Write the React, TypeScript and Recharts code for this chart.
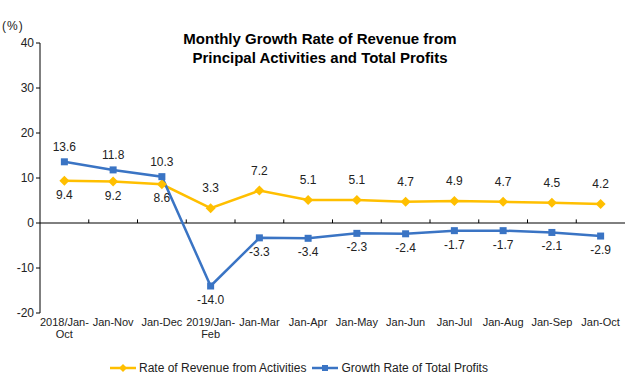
import { LineChart, Line, XAxis, YAxis, ReferenceLine, LabelList } from 'recharts';

const categories = [
  '2018/Jan-\nOct', 'Jan-Nov', 'Jan-Dec', '2019/Jan-\nFeb', 'Jan-Mar', 'Jan-Apr',
  'Jan-May', 'Jan-Jun', 'Jan-Jul', 'Jan-Aug', 'Jan-Sep', 'Jan-Oct',
];
const revenueRate = [9.4, 9.2, 8.6, 3.3, 7.2, 5.1, 5.1, 4.7, 4.9, 4.7, 4.5, 4.2];
const profitRate = [13.6, 11.8, 10.3, -14.0, -3.3, -3.4, -2.3, -2.4, -1.7, -1.7, -2.1, -2.9];
const yTicks = [-20, -10, 0, 10, 20, 30, 40];

const REVENUE_NAME = 'Rate of Revenue from Activities';
const PROFIT_NAME = 'Growth Rate of Total Profits';
const YELLOW = '#FFBF00';
const BLUE = '#3A74C4';
const FONT = "'Liberation Sans', Arial, sans-serif";

const data = categories.map((c, i) => ({
  x: i + 0.5,
  name: c,
  revenue: revenueRate[i],
  profit: profitRate[i],
}));

const xTicks = categories.map((_, i) => i + 0.5);
const boundaries = categories.slice(1).map((_, i) => i + 1);

function CategoryTick(props: any) {
  const { x, y, payload } = props;
  const idx = Math.round(payload.value - 0.5);
  const lines = (categories[idx] ?? '').split('\n');
  return (
    <text x={x} y={y} textAnchor="middle" fontSize={11} fill="#222" fontFamily={FONT}>
      {lines.map((l, i) => (
        <tspan key={i} x={x} dy={i === 0 ? 5 : 12}>{l}</tspan>
      ))}
    </text>
  );
}

function Diamond(props: any) {
  const { cx, cy } = props;
  if (cx == null || cy == null) return null;
  return <path d={`M${cx},${cy - 5}L${cx + 5},${cy}L${cx},${cy + 5}L${cx - 5},${cy}Z`} fill={YELLOW} />;
}

function Square(props: any) {
  const { cx, cy } = props;
  if (cx == null || cy == null) return null;
  return <rect x={cx - 3.5} y={cy - 3.5} width={7} height={7} fill={BLUE} />;
}

// label goes on the side away from the other series
function makeLabel(own: number[], other: number[], upGap: number) {
  return (props: any) => {
    const { x, y, index } = props;
    const above = own[index] > other[index];
    return (
      <text
        x={x}
        y={above ? y - upGap : y + 14}
        textAnchor="middle"
        dominantBaseline="central"
        fontSize={12}
        fill="#222"
        fontFamily={FONT}
      >
        {own[index].toFixed(1)}
      </text>
    );
  };
}

function LegendItem({ color, label, square }: { color: string; label: string; square?: boolean }) {
  return (
    <span style={{ display: 'inline-flex', alignItems: 'center', marginRight: 6 }}>
      <svg width={28} height={10} style={{ marginRight: 1 }}>
        <line x1={0} y1={5} x2={26} y2={5} stroke={color} strokeWidth={2.5} />
        {square
          ? <rect x={10} y={2} width={6} height={6} fill={color} />
          : <path d="M13,1L17,5L13,9L9,5Z" fill={color} />}
      </svg>
      {label}
    </span>
  );
}

export default function App() {
  return (
    <div style={{ position: 'absolute', left: 0, top: 0, width: 633, height: 382, background: '#fff', fontFamily: FONT }}>
      <div style={{ position: 'absolute', left: 2, top: 19, fontSize: 12, color: '#222', letterSpacing: 1 }}>(%)</div>
      <div
        style={{
          position: 'absolute', left: 0, top: 29, width: 640, textAlign: 'center',
          fontSize: 15, fontWeight: 'bold', lineHeight: '19px', color: '#000',
        }}
      >
        Monthly Growth Rate of Revenue from<br />Principal Activities and Total Profits
      </div>
      <LineChart width={633} height={382} data={data} margin={{ top: 43, right: 8, bottom: 39, left: 10 }}>
        <XAxis
          type="number"
          dataKey="x"
          domain={[0, 12]}
          ticks={xTicks}
          interval={0}
          axisLine={false}
          tickLine={false}
          tick={<CategoryTick />}
          height={30}
        />
        <YAxis
          domain={[-20, 40]}
          ticks={yTicks}
          interval={0}
          width={30}
          tickSize={4}
          axisLine={{ stroke: '#000' }}
          tickLine={{ stroke: '#000' }}
          tick={{ fontSize: 12, fill: '#222', fontFamily: FONT }}
        />
        <ReferenceLine y={0} stroke="#000" />
        {boundaries.map(b => (
          <ReferenceLine key={b} segment={[{ x: b, y: 0 }, { x: b, y: 0.8 }]} stroke="#000" />
        ))}
        <Line
          dataKey="revenue"
          name={REVENUE_NAME}
          stroke={YELLOW}
          strokeWidth={2.5}
          dot={<Diamond />}
          activeDot={false}
          isAnimationActive={false}
        >
          <LabelList dataKey="revenue" content={makeLabel(revenueRate, profitRate, 20)} />
        </Line>
        <Line
          dataKey="profit"
          name={PROFIT_NAME}
          stroke={BLUE}
          strokeWidth={2.5}
          dot={<Square />}
          activeDot={false}
          isAnimationActive={false}
        >
          <LabelList dataKey="profit" content={makeLabel(profitRate, revenueRate, 15)} />
        </Line>
      </LineChart>
      <div style={{ position: 'absolute', left: 110, top: 361, fontSize: 12, color: '#222', display: 'flex' }}>
        <LegendItem color={YELLOW} label={REVENUE_NAME} />
        <LegendItem color={BLUE} label={PROFIT_NAME} square />
      </div>
    </div>
  );
}
